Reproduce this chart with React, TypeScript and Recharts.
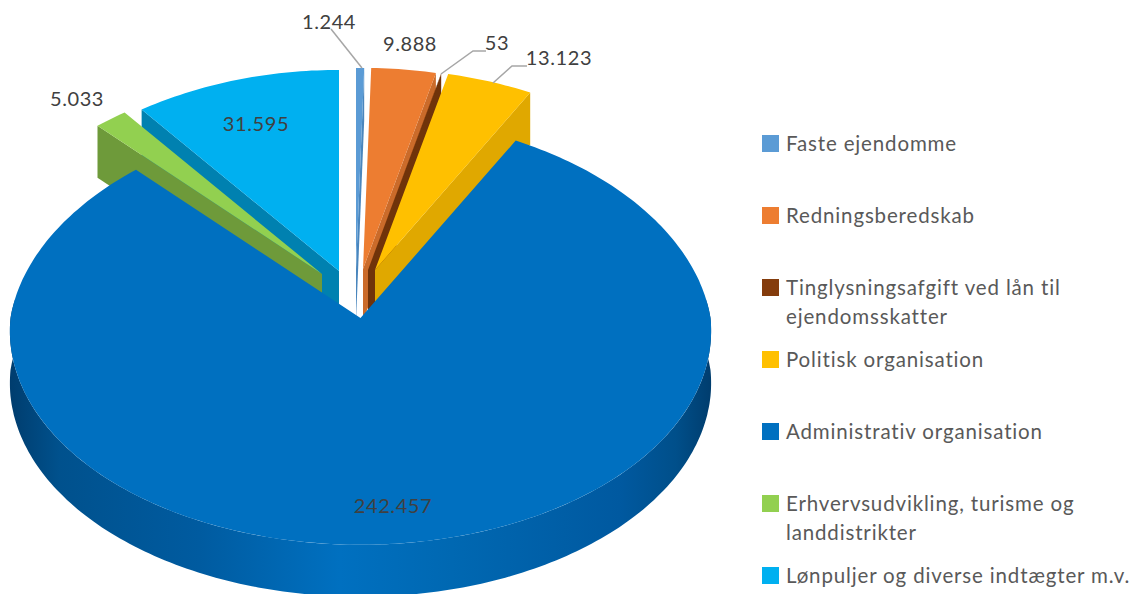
import { Legend, Pie, PieChart } from 'recharts';

const CATEGORIES = [
  'Faste ejendomme',
  'Redningsberedskab',
  'Tinglysningsafgift ved lån til ejendomsskatter',
  'Politisk organisation',
  'Administrativ organisation',
  'Erhvervsudvikling, turisme og landdistrikter',
  'Lønpuljer og diverse indtægter m.v.',
];
const VALUES = [1244, 9888, 53, 13123, 242457, 5033, 31595];
const COLORS = ['#5B9BD5', '#ED7D31', '#843C0C', '#FFC000', '#0070C0', '#92D050', '#00B0F0'];
const WALL_COLORS = ['#4A86BD', '#CB6B2A', '#70330A', '#E0A800', '#005A9E', '#6E9A3A', '#0081B0'];

// explosion of each slice on screen, the big one stays in place
const SHIFT_X = [-4.5, 2.5, 7.5, 14.5, 0, -38.5, -21.5];
const SHIFT_Y = [-49, -49, -48, -48, 0, -44, -47];

// back to front, Recharts would otherwise paint in data order
const DRAW_ORDER = [0, 1, 2, 3, 6, 5, 4];

// center x, baseline y, optional leader line
const LABELS: { x: number; y: number; line?: number[][] }[] = [
  { x: 329, y: 29, line: [[331, 29], [362, 68]] },
  { x: 410, y: 51 },
  { x: 497, y: 50, line: [[486, 51], [473, 51], [441, 74]] },
  { x: 559, y: 65, line: [[527, 66], [512, 66], [493, 83]] },
  { x: 393, y: 513 },
  { x: 77, y: 106 },
  { x: 256, y: 131 },
];

const FONT = 'Lato, sans-serif';
const CX = 360.5;
const CY = 318;
const RX = 350;
const TILT = 0.609;
const DEPTH = 52;

const pieData = CATEGORIES.map((name, i) => ({ name, value: VALUES[i], fill: COLORS[i] }));

// point on the rim, theta clockwise from 12 o'clock, with a bit of perspective
const rim = (theta: number, rx: number) => {
  const a = (theta * Math.PI) / 180;
  const u = Math.sin(a);
  const v = Math.cos(a);
  const wx = v > 0 ? 1 + 0.1 * v : 1 + 0.06 * v;
  const wy = 1 + 0.06 * v;
  return [(rx * u) / wx, (-rx * TILT * v) / wy];
};

const toPath = (pts: number[][]) =>
  'M' + pts.map((p) => `${p[0].toFixed(1)},${p[1].toFixed(1)}`).join('L') + 'Z';

const sliceShape = (layer: number) => (props: any) => {
  if (props.name !== CATEGORIES[layer] && props.payload?.name !== CATEGORIES[layer]) return null;
  const { cx, cy, outerRadius, startAngle, endAngle } = props;
  const t0 = 90 - startAngle;
  const t1 = 90 - endAngle;
  const ox = cx + SHIFT_X[layer];
  const oy = cy + SHIFT_Y[layer];
  const at = (t: number) => {
    const [x, y] = rim(t, outerRadius);
    return [ox + x, oy + y];
  };
  const down = (p: number[]) => [p[0], p[1] + DEPTH];

  const arc: number[][] = [];
  const steps = Math.max(2, Math.ceil(t1 - t0));
  for (let i = 0; i <= steps; i++) arc.push(at(t0 + ((t1 - t0) * i) / steps));
  const apex = [ox, oy];
  const top = toPath([apex, ...arc]);

  if (t1 - t0 > 180) {
    const front: number[][] = [];
    for (let t = 85; t <= 275; t++) front.push(at(t));
    return (
      <g>
        <defs>
          <linearGradient id="frontWall" gradientUnits="userSpaceOnUse" x1="10" x2="711" y1="0" y2="0">
            <stop offset="0" stopColor="#003D6E" />
            <stop offset="0.07" stopColor="#00518D" />
            <stop offset="0.27" stopColor="#005BA0" />
            <stop offset="0.47" stopColor="#0070C0" />
            <stop offset="0.63" stopColor="#0068B2" />
            <stop offset="0.87" stopColor="#0059A0" />
            <stop offset="0.95" stopColor="#004F8A" />
            <stop offset="1" stopColor="#003D6E" />
          </linearGradient>
        </defs>
        <path d={toPath([...front, ...front.slice().reverse().map(down)])} fill="url(#frontWall)" />
        <path d={top} fill={COLORS[layer]} />
      </g>
    );
  }

  // the cut face turned towards the viewer
  const edge = (t0 + t1) / 2 < 180 ? arc[arc.length - 1] : arc[0];
  return (
    <g>
      <path d={toPath([apex, edge, down(edge), down(apex)])} fill={WALL_COLORS[layer]} />
      <path d={top} fill={COLORS[layer]} />
    </g>
  );
};

const renderLabel = (props: any) => {
  const l = LABELS[props.index];
  return (
    <g key={props.index}>
      {l.line && (
        <polyline
          points={l.line.map((p) => p.join(',')).join(' ')}
          fill="none"
          stroke="#A6A6A6"
          strokeWidth={1.5}
        />
      )}
      <text
        x={l.x}
        y={l.y}
        textAnchor="middle"
        fontFamily={FONT}
        fontSize={20}
        letterSpacing={0.6}
        fill="#404040"
      >
        {VALUES[props.index].toLocaleString('da-DK')}
      </text>
    </g>
  );
};

const renderLegend = (props: any) => {
  const seen = new Set<string>();
  const rows = (props.payload ?? []).filter((e: any) => {
    if (seen.has(e.value)) return false;
    seen.add(e.value);
    return true;
  });
  return (
    <div style={{ fontFamily: FONT, fontSize: 20.5, letterSpacing: 0.85, lineHeight: '29px', color: '#595959' }}>
      {rows.map((e: any) => (
        <div key={e.value} style={{ height: 72, display: 'flex' }}>
          <span
            style={{ width: 17, height: 17, marginTop: 6, marginRight: 7, background: e.color, flex: 'none' }}
          />
          <span>{e.value}</span>
        </div>
      ))}
    </div>
  );
};

export default function App() {
  return (
    <div style={{ position: 'absolute', left: 0, top: 0, width: 1141, height: 594, overflow: 'hidden', background: '#fff' }}>
      <PieChart width={1141} height={660} margin={{ top: 0, right: 0, bottom: 0, left: 0 }}>
        {DRAW_ORDER.map((layer, i) => (
          <Pie
            key={layer}
            data={pieData}
            dataKey="value"
            nameKey="name"
            cx={CX}
            cy={CY}
            outerRadius={RX}
            startAngle={90}
            endAngle={-270}
            stroke="none"
            isAnimationActive={false}
            legendType={i === 0 ? 'square' : 'none'}
            shape={sliceShape(layer)}
            label={i === DRAW_ORDER.length - 1 ? renderLabel : false}
            labelLine={false}
          />
        ))}
        <Legend
          content={renderLegend}
          itemSorter={null}
          layout="vertical"
          wrapperStyle={{ position: 'absolute', left: 762, top: 129, width: 375 }}
        />
      </PieChart>
    </div>
  );
}
